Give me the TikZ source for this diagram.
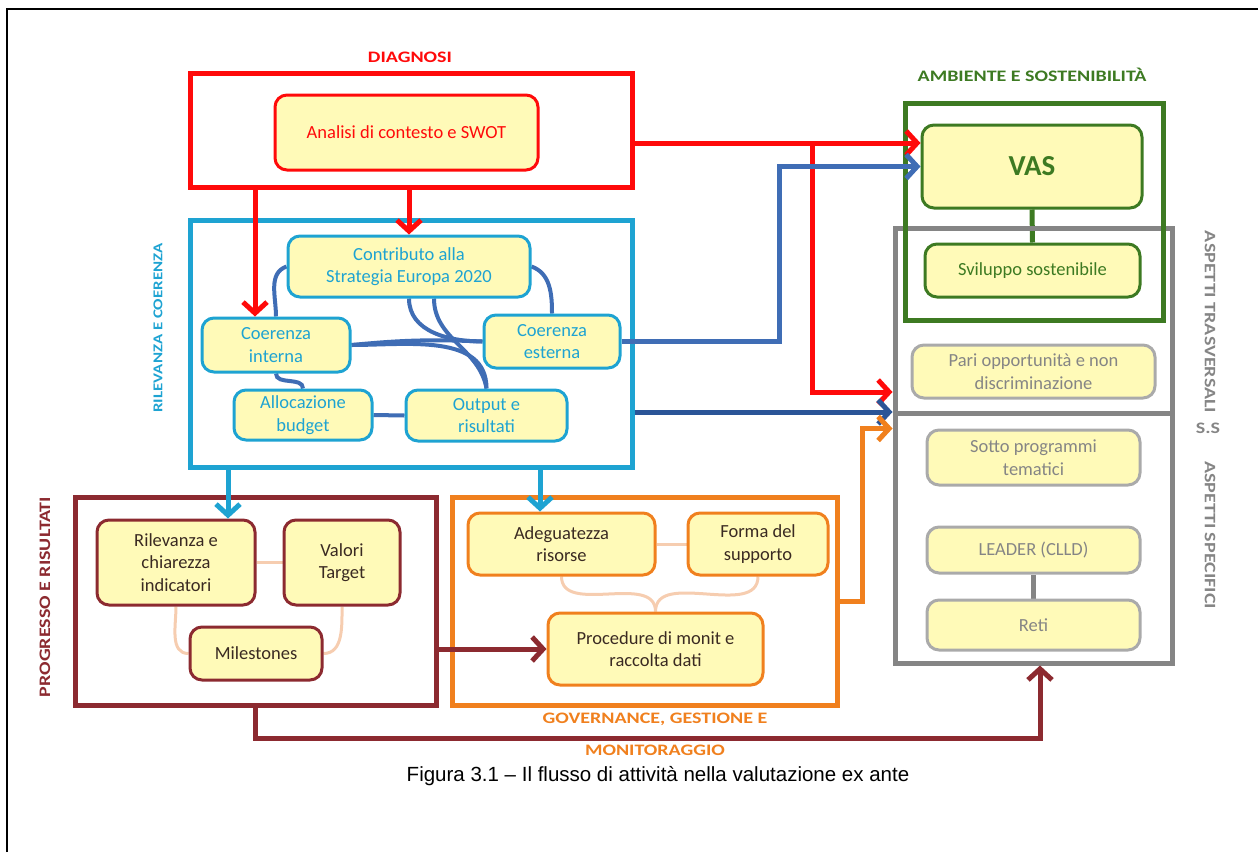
\documentclass[tikz,border=0pt]{standalone}
\usepackage{fontspec}
\setmainfont{Carlito}
\newfontfamily\capfont{Liberation Sans}
\newfontfamily\titlefont[FakeStretch=1.25]{Carlito}
\usetikzlibrary{arrows.meta,backgrounds}
\definecolor{rosso}{HTML}{FF0A0A}
\definecolor{ciano}{HTML}{1EA3D2}
\definecolor{acciaio}{HTML}{3F6DB5}
\definecolor{notte}{HTML}{2B5597}
\definecolor{verde}{HTML}{3D7A22}
\definecolor{grigio}{HTML}{858585}
\definecolor{bordeaux}{HTML}{8C2A30}
\definecolor{arancio}{HTML}{F0801E}
\definecolor{giallo}{HTML}{FFFAB8}
\definecolor{pesca}{HTML}{F6CDB0}
\definecolor{scuro}{HTML}{3A2A22}
\tikzset{
    %Define standard arrow tip
    >={Straight Barb[length=11pt,width=24pt]},
    punkt/.style={
      rectangle,
      rounded corners=12pt,
      fill=giallo, line width=3pt,
      align=center,
      font=\fontsize{18.5}{22.5}\selectfont},
    cornice/.style={
      rectangle,
      line width=5pt},
    taglia/.style 2 args={
      minimum width=#1pt,
      minimum height=#2pt},
    titolo/.style={
      font=\titlefont\fontsize{16}{18}\selectfont\bfseries},
    freccia/.style={->, line width=5pt},
    legame/.style={line width=4pt, draw=acciaio},
    tenue/.style={line width=3pt, draw=pesca},
}
\begin{document}
\begin{tikzpicture}[x=1pt,y=-1pt]
    \useasboundingbox (0,0) rectangle (1258,852);
    % outer frame
    \draw[line width=1.6pt] (7,852) -- (7,9) -- (1258,9);

    % frames
    \node (diagnosi) [cornice, draw=rosso, taglia={442}{114}] at (411,130) {};
    \node (rilevanza) [cornice, draw=ciano, taglia={442}{247}] at (411,343.5) {};
    \node (trasversali) [cornice, draw=grigio, taglia={277}{185}] at (1033.5,320.5) {};
    \node (specifici) [cornice, draw=grigio, taglia={277}{250}] at (1033.5,538) {};
    \node (ambiente) [cornice, draw=verde, taglia={258}{217}] at (1034,211.5) {};
    \node (progresso) [cornice, draw=bordeaux, taglia={361}{208}] at (255.5,601) {};
    \node (governance) [cornice, draw=arancio, taglia={385}{208}] at (644.5,601) {};

    % frame titles
    \node (t_diagnosi) [titolo, text=rosso] at (410,57) {DIAGNOSI};
    \node (t_ambiente) [titolo, text=verde] at (1032,75) {AMBIENTE E SOSTENIBILITÀ};
    \node (t_rilevanza) [titolo, text=ciano, rotate=90,
          font=\titlefont\fontsize{13.5}{16}\selectfont\bfseries] at (158,328) {RILEVANZA E COERENZA};
    \node (t_progresso) [titolo, text=bordeaux, rotate=90] at (45,597) {PROGRESSO E RISULTATI};
    \node (t_governance) [titolo, text=arancio] at (655,719) {GOVERNANCE, GESTIONE E};
    \node (t_monitoraggio) [titolo, text=arancio] at (655,750) {MONITORAGGIO};
    \node (t_trasversali) [titolo, text=grigio, rotate=-90] at (1210,322) {ASPETTI TRASVERSALI};
    \node (t_ss) [titolo, text=grigio] at (1208,428) {S.S};
    \node (t_specifici) [titolo, text=grigio, rotate=-90] at (1210,535) {ASPETTI SPECIFICI};

    % diagnosi
    \node (analisi) [punkt, draw=rosso, text=rosso, taglia={263}{75}] at (406.5,132.5)
          {Analisi di contesto e SWOT};

    % rilevanza e coerenza
    \node (contributo) [punkt, draw=ciano, text=ciano, taglia={242}{61}] at (409,266.5)
          {Contributo alla\\Strategia Europa 2020};
    \node (interna) [punkt, draw=ciano, text=ciano, taglia={148}{54}] at (276,345)
          {Coerenza\\interna};
    \node (esterna) [punkt, draw=ciano, text=ciano, taglia={136}{53}] at (552,341.5)
          {Coerenza\\esterna};
    \node (allocazione) [punkt, draw=ciano, text=ciano, taglia={138}{50}] at (303,415)
          {Allocazione\\budget};
    \node (output) [punkt, draw=ciano, text=ciano, taglia={161}{51}] at (486.5,415.5)
          {Output e\\risultati};

    % ambiente e aspetti
    \node (vas) [punkt, draw=verde, text=verde, taglia={220}{83},
          font=\fontsize{29}{32}\selectfont\bfseries] at (1032,166.5) {VAS};
    \node (sviluppo) [punkt, draw=verde, text=verde, taglia={215}{53}] at (1032.5,270.5)
          {Sviluppo sostenibile};
    \node (pari) [punkt, draw=grigio!70, text=grigio, taglia={243}{53}] at (1033.5,371.5)
          {Pari opportunità e non\\discriminazione};
    \node (sotto) [punkt, draw=grigio!70, text=grigio, taglia={213}{55}] at (1033.5,457.5)
          {Sotto programmi\\tematici};
    \node (leader) [punkt, draw=grigio!70, text=grigio, taglia={213}{46}] at (1033.5,550)
          {LEADER (CLLD)};
    \node (reti) [punkt, draw=grigio!70, text=grigio, taglia={213}{50}] at (1033.5,625)
          {Reti};

    % progresso e risultati
    \node (rilev) [punkt, draw=bordeaux, text=scuro, taglia={158}{85}] at (176,562.5)
          {Rilevanza e\\chiarezza\\indicatori};
    \node (valori) [punkt, draw=bordeaux, text=scuro, taglia={116}{85}] at (342,562.5)
          {Valori\\Target};
    \node (milestones) [punkt, draw=bordeaux, text=scuro, taglia={132}{53}] at (256,653.5)
          {Milestones};

    % governance
    \node (adeguatezza) [punkt, draw=arancio, text=scuro, taglia={187}{62}] at (561.5,544)
          {Adeguatezza\\risorse};
    \node (forma) [punkt, draw=arancio, text=scuro, taglia={140}{62}] at (758,544)
          {Forma del\\supporto};
    \node (procedure) [punkt, draw=arancio, text=scuro, taglia={215}{72}] at (655.5,649)
          {Procedure di monit e\\raccolta dati};

    % links behind the boxes
    \begin{scope}[on background layer]
      \draw[legame] (contributo.west) to[out=200,in=90] (interna.north);
      \draw[legame] (contributo.east) to[out=-20,in=90] (esterna.north);
      \draw[legame] (contributo.south) to[out=270,in=180] (esterna.west);
      \draw[legame] (interna.east) to[bend left=4] (esterna.west);
      \draw[legame] (interna.east) to[out=0,in=90] (output.north);
      \draw[legame] ([xshift=25pt]contributo.south) to[out=270,in=100] (output.north);
      \draw[legame] (interna.south) to[out=270,in=90] (allocazione.north);
      \draw[legame] (allocazione.east) -- (output.west);
      \draw[line width=5pt, verde] (vas.south) -- (sviluppo.north);
      \draw[line width=5pt, grigio] (leader.south) -- (reti.north);
      \draw[tenue] (rilev.east) -- (valori.west);
      \draw[tenue] (rilev.south) to[out=270,in=180] (milestones.west);
      \draw[tenue] (valori.south) to[out=270,in=0] (milestones.east);
      \draw[tenue] (adeguatezza.east) -- (forma.west);
      \draw[tenue] (adeguatezza.south) to[out=270,in=90] (procedure.north);
      \draw[tenue] (forma.south) to[out=270,in=90] (procedure.north);
    \end{scope}

    % arrows
    \coordinate (rsplit) at (812,143);
    \draw[freccia, rosso] ([xshift=-21pt]interna.north |- diagnosi.south)
          -- ([xshift=-21pt]interna.north);
    \draw[freccia, rosso] (diagnosi.south -| contributo.north) -- (contributo.north);
    \draw[freccia, rosso] ([yshift=-13pt]diagnosi.east) -- ([yshift=-13pt]diagnosi.east -| vas.west);
    \draw[freccia, rosso] (rsplit) |- ([yshift=-71.5pt]trasversali.west);
    \draw[freccia, acciaio] (esterna.east) -- ++(158,0) |- (vas.west);
    \draw[freccia, notte] ([yshift=-68.5pt]rilevanza.east)
          -- ([yshift=-68.5pt]rilevanza.east -| trasversali.west);
    \draw[freccia, arancio] (governance.east) -- ++(23,0) |- (sotto.north -| specifici.west);
    \draw[freccia, ciano] ([xshift=52pt]rilev.north |- rilevanza.south)
          -- ([xshift=52pt]rilev.north);
    \draw[freccia, ciano] ([xshift=-21.5pt]adeguatezza.north |- rilevanza.south)
          -- ([xshift=-21.5pt]adeguatezza.north);
    \draw[freccia, bordeaux] (progresso.east |- procedure.west) -- (procedure.west);
    \draw[freccia, bordeaux] (progresso.south) -- ++(0,31)
          -| ([xshift=6.5pt]specifici.south);

    % caption
    \node (didascalia) [font=\capfont\fontsize{20.5}{24}\selectfont] at (658,776)
          {Figura 3.1 – Il flusso di attività nella valutazione ex ante};
\end{tikzpicture}
\end{document}
